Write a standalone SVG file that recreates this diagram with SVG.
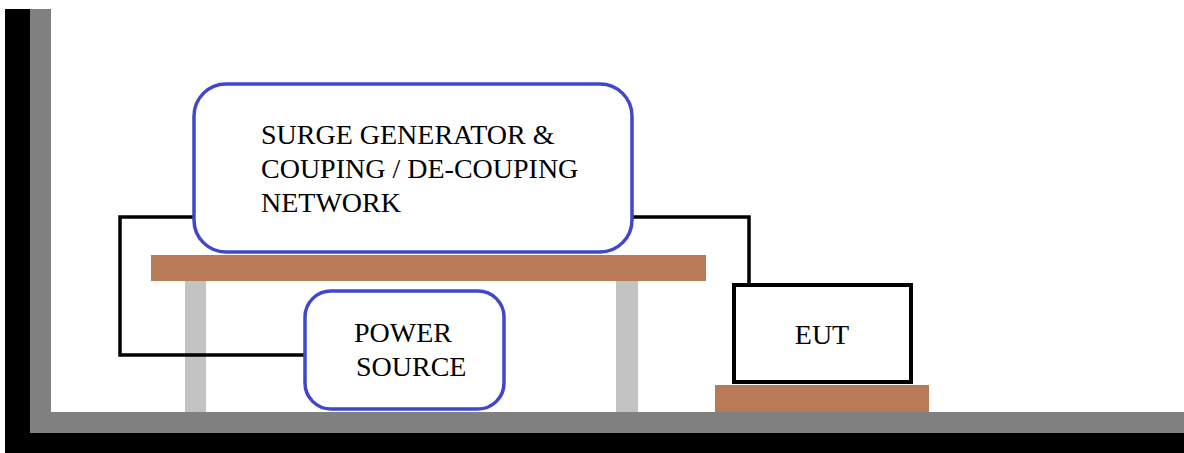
<svg xmlns="http://www.w3.org/2000/svg" width="1184" height="453" viewBox="0 0 1184 453">
<style>
.lbl{font-family:"Liberation Serif","Times New Roman",serif;font-size:28px;fill:#000}
.blue{fill:#fff;stroke:#3f48cc;stroke-width:3.5}
.wire{fill:none;stroke:#000;stroke-width:3.5}
.wood{fill:#b97a57}
.leg{fill:#c3c3c3}
</style>
<rect width="1184" height="453" fill="#fff"/>
<g id="ground">
<rect x="5" y="9" width="25" height="444" fill="#000"/>
<rect x="5" y="433" width="1179" height="20" fill="#000"/>
<rect x="30" y="9" width="21" height="424" fill="#808080"/>
<rect x="30" y="412" width="1154" height="21" fill="#808080"/>
</g>
<g id="table">
<rect class="leg" x="185" y="281" width="21" height="131"/>
<rect class="leg" x="616" y="281" width="22" height="131"/>
<rect class="wood" x="151" y="255" width="555" height="26"/>
</g>
<g id="eut-base">
<rect class="wood" x="715" y="385" width="214" height="27"/>
</g>
<g id="connectors">
<polyline class="wire" points="196,217 120,217 120,355 306,355"/>
<polyline class="wire" points="630,217 749,217 749,285"/>
</g>
<g id="surge">
<rect class="blue" x="194" y="84" width="438" height="168" rx="32" ry="32"/>
<text class="lbl" x="261" y="144">SURGE GENERATOR &amp;</text>
<text class="lbl" x="261" y="178">COUPING / DE-COUPING</text>
<text class="lbl" x="261" y="212">NETWORK</text>
</g>
<g id="power">
<rect class="blue" x="305" y="291" width="199" height="118" rx="26" ry="26"/>
<text class="lbl" x="354" y="342">POWER</text>
<text class="lbl" x="356" y="376">SOURCE</text>
</g>
<g id="eut">
<rect x="734" y="285" width="177" height="97" fill="#fff" stroke="#000" stroke-width="4"/>
<text class="lbl" x="822" y="344" text-anchor="middle">EUT</text>
</g>
</svg>
